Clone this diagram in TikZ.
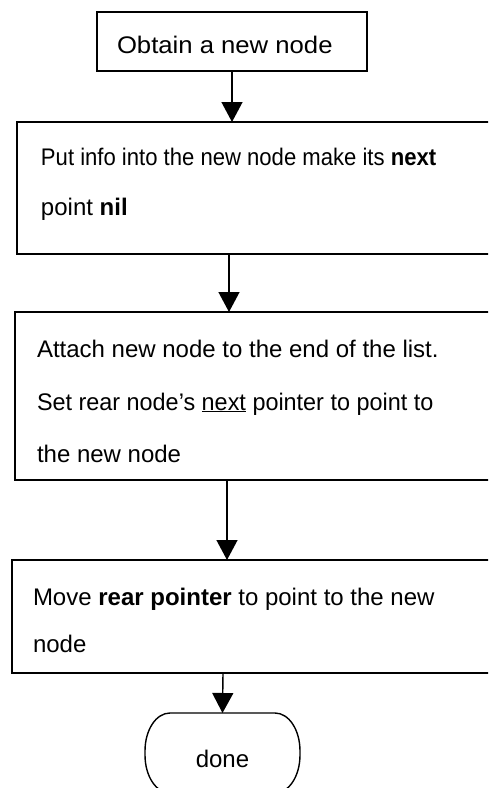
\documentclass[tikz,border=0pt]{standalone}
\usepackage{fontspec}
\setmainfont{Liberation Sans}
\usetikzlibrary{arrows.meta}

\begin{document}
\begin{tikzpicture}[x=1pt,y=-1pt,
  every node/.style={inner sep=0pt, outer sep=0pt},
  box/.style={draw, line width=1.4pt, rectangle, anchor=north west},
  txt/.style={anchor=base west, font=\fontsize{24}{28}\selectfont},
  arr/.style={line width=1.4pt, -{Triangle[width=21pt,length=20pt]}},
  edge/.style={line width=1.4pt}]

  % page frame; the step boxes run past the right edge
  \path[use as bounding box, clip] (0,0) rectangle (488,788);

  % step boxes
  \node[box, minimum width=270pt, minimum height=59pt]  (b1) at (97,12) {};
  \node[box, minimum width=520pt, minimum height=132pt] (b2) at (17,122) {};
  \node[box, minimum width=520pt, minimum height=168pt] (b3) at (15,312) {};
  \node[box, minimum width=520pt, minimum height=113pt] (b4) at (12,560) {};

  % step texts
  \node[txt] (t1)  at (117,53)  {\scalebox{1.07}[1]{Obtain a new node}};
  \node[txt] (t2a) at (41,165)  {\scalebox{0.92}[1]{Put info into the new node make its \textbf{next}}};
  \node[txt] (t2b) at (41,215)  {point \textbf{nil}};
  \node[txt] (t3a) at (37,357)  {Attach new node to the end of the list.};
  \node[txt] (t3b) at (37,410)  {\scalebox{0.975}[1]{Set rear node’s \underline{next} pointer to point to}};
  \node[txt] (t3c) at (37,462)  {the new node};
  \node[txt] (t4a) at (33,605)  {Move \textbf{rear pointer} to point to the new};
  \node[txt] (t4b) at (33,652)  {node};

  % terminal with elliptic corners
  \node[minimum width=155pt, minimum height=80pt, text height=28pt, text depth=0pt,
        font=\fontsize{24}{28}\selectfont] (d) at (222.5,753) {done};
  \draw[edge] ([xshift=25pt]d.north west) -- ([xshift=-25pt]d.north east)
    .. controls ([xshift=-11pt]d.north east) and ([yshift=-17pt]d.north east) .. ([yshift=-38pt]d.north east)
    -- ([yshift=38pt]d.south east)
    .. controls ([yshift=17pt]d.south east) and ([xshift=-11pt]d.south east) .. ([xshift=-25pt]d.south east)
    -- ([xshift=25pt]d.south west)
    .. controls ([xshift=11pt]d.south west) and ([yshift=17pt]d.south west) .. ([yshift=38pt]d.south west)
    -- ([yshift=-38pt]d.north west)
    .. controls ([yshift=-17pt]d.north west) and ([xshift=11pt]d.north west) .. cycle;

  % flow
  \draw[arr] (b1.south) -- (b1.south |- b2.north);
  \draw[arr] ([xshift=-3pt]b1.south |- b2.south) -- ([xshift=-3pt]b1.south |- b3.north);
  \draw[arr] ([xshift=-5pt]b1.south |- b3.south) -- ([xshift=-5pt]b1.south |- b4.north);
  \draw[arr] ([xshift=-9pt]b1.south |- b4.south) -- (d.north);
\end{tikzpicture}
\end{document}
